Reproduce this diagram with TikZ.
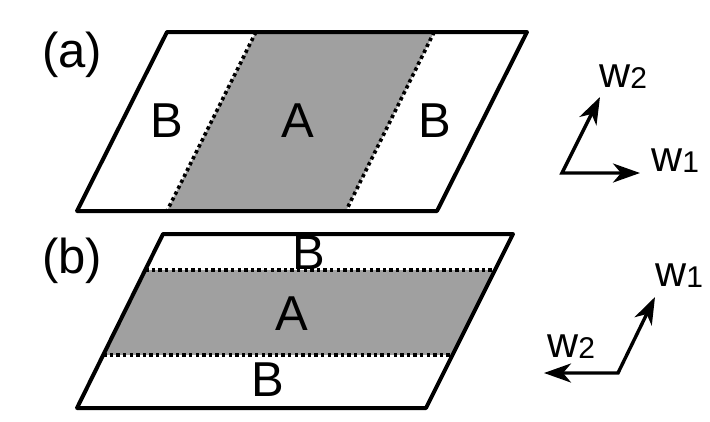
\documentclass[tikz,border=0pt]{standalone}
\usepackage{fontspec}
\setmainfont{Liberation Sans}
\usetikzlibrary{arrows.meta,calc}

\definecolor{regiongray}{RGB}{160,160,160}
\newcommand\wsub[1]{\raisebox{-1pt}{\fontsize{30}{30}\selectfont #1}}

\begin{document}
\begin{tikzpicture}[x=1pt,y=-1pt,>={Stealth[length=27pt,width=19pt,inset=8pt]},
  cell/.style={line width=4pt,line join=round},
  border/.style={line width=3.6pt,dash pattern=on 3.4pt off 3.2pt},
  vec/.style={<->,line width=3.4pt,line join=miter},
  big/.style={inner sep=0pt,font=\fontsize{49}{49}\selectfont},
  wlab/.style={inner sep=0pt,anchor=base west,font=\fontsize{43}{43}\selectfont}]
  \useasboundingbox (0,0) rectangle (710,421);

  % panel (a): strip A between two B parts
  \coordinate (atl) at (167,32);
  \coordinate (atr) at (527,32);
  \coordinate (abr) at (437,211);
  \coordinate (abl) at (77,211);
  \coordinate (as1) at ($(atl)!.247!(atr)$);
  \coordinate (as2) at ($(abl)!.250!(abr)$);
  \coordinate (as3) at ($(atl)!.742!(atr)$);
  \coordinate (as4) at ($(abl)!.747!(abr)$);
  \fill[regiongray] (as1) -- (as3) -- (as4) -- (as2) -- cycle;
  \draw[border] (as1) -- (as2);
  \draw[border] (as3) -- (as4);
  \draw[cell] (atl) -- (atr) -- (abr) -- (abl) -- cycle;
  \node[big] (alabel) at (72,55) {(a)};
  \node[big] (aB1) at (167,121) {B};
  \node[big] (aA) at (298,121) {A};
  \node[big] (aB2) at (435,121) {B};

  \coordinate (ao) at (562,173);
  \coordinate (ae1) at (640,173);
  \coordinate (ae2) at (600,97);
  \draw[vec] (ae2) -- (ao) -- (ae1);
  \node[wlab] (aw1) at (651,171) {w\wsub{1}};
  \node[wlab] (aw2) at (599,87) {w\wsub{2}};

  % panel (b): strip A lies along w1
  \coordinate (btl) at (163,234);
  \coordinate (btr) at (513,234);
  \coordinate (bbr) at (426,408);
  \coordinate (bbl) at (77,408);
  \coordinate (bs1) at ($(btl)!.207!(bbl)$);
  \coordinate (bs2) at ($(btr)!.207!(bbr)$);
  \coordinate (bs3) at ($(btl)!.695!(bbl)$);
  \coordinate (bs4) at ($(btr)!.695!(bbr)$);
  \fill[regiongray] (bs1) -- (bs2) -- (bs4) -- (bs3) -- cycle;
  \draw[border] (bs1) -- (bs2);
  \draw[border] (bs3) -- (bs4);
  \draw[cell] (btl) -- (btr) -- (bbr) -- (bbl) -- cycle;
  \node[big] (blabel) at (72,261) {(b)};
  \node[big] (bB1) at (309,253) {B};
  \node[big] (bA) at (292,314) {A};
  \node[big] (bB2) at (268,380) {B};

  \coordinate (bo) at (618,373);
  \coordinate (be1) at (655,297);
  \coordinate (be2) at (544,373);
  \draw[vec] (be2) -- (bo) -- (be1);
  \node[wlab] (bw1) at (655,286) {w\wsub{1}};
  \node[wlab] (bw2) at (547,357) {w\wsub{2}};
\end{tikzpicture}
\end{document}
